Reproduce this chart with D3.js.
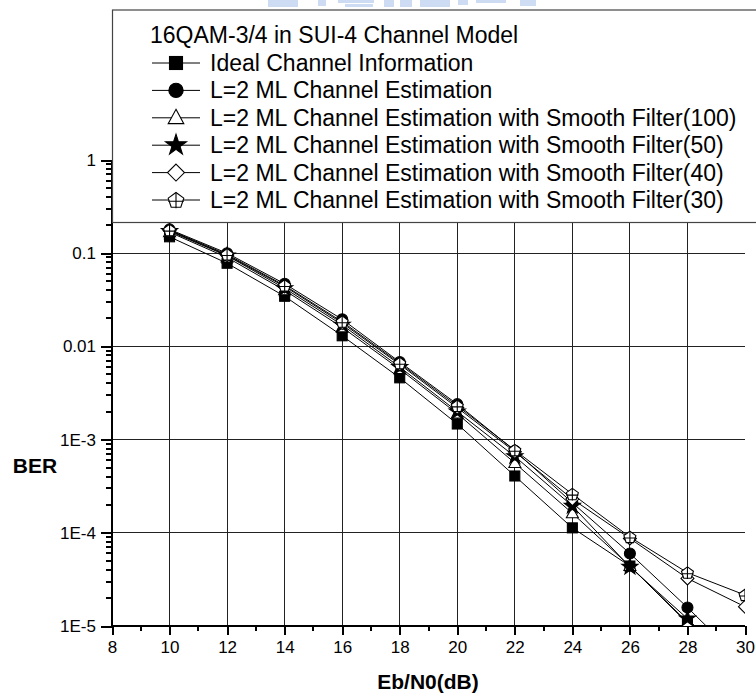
<!DOCTYPE html>
<html><head><meta charset="utf-8">
<script src="https://cdn.jsdelivr.net/npm/d3@7"></script>
<style>body{margin:0;background:#fff}svg{display:block}text{font-family:"Liberation Sans",Arial,sans-serif}</style>
</head><body>
<svg id="c" width="756" height="700"></svg>
<script>
const ebn0 = [10,12,14,16,18,20,22,24,26,28,30];
const idealCI = [0.150,0.078,0.0345,0.0130,0.0046,0.00147,4.07e-4,1.13e-4,4.4e-5,1.07e-5,2.5e-6];
const mlCE    = [0.180,0.100,0.047,0.0195,0.0068,0.0024,7.6e-4,2.1e-4,6.0e-5,1.58e-5,3.9e-6];
const sf100   = [0.168,0.090,0.040,0.0160,0.0057,0.0019,5.6e-4,1.62e-4,4.4e-5,1.1e-5,3.0e-6];
const sf50    = [0.172,0.094,0.042,0.0170,0.0060,0.0020,6.6e-4,1.94e-4,4.3e-5,1.2e-5,2.9e-6];
const sf40    = [0.175,0.095,0.044,0.0178,0.0064,0.0022,7.4e-4,2.3e-4,8.7e-5,3.24e-5,1.61e-5];
const sf30    = [0.177,0.097,0.045,0.0184,0.0066,0.0023,7.7e-4,2.6e-4,9.0e-5,3.73e-5,2.15e-5];
const seriesNames = ["Ideal Channel Information","L=2 ML Channel Estimation",
  "L=2 ML Channel Estimation with Smooth Filter(100)","L=2 ML Channel Estimation with Smooth Filter(50)",
  "L=2 ML Channel Estimation with Smooth Filter(40)","L=2 ML Channel Estimation with Smooth Filter(30)"];
const seriesValues = [idealCI, mlCE, sf100, sf50, sf40, sf30];
const seriesMarkers = ["square","circle","triangle","star","diamond","pentagon"];
const legendTitle = "16QAM-3/4 in SUI-4 Channel Model";
const xTicks = [8,10,12,14,16,18,20,22,24,26,28,30];
const yTicks = [1e-5,1e-4,1e-3,1e-2,1e-1,1];
const yTickLabels = ["1E-5","1E-4","1E-3","0.01","0.1","1"];

const svg = d3.select("#c");
const L=112, R=745, T=160, B=626;
const x = d3.scaleLinear().domain([8,30]).range([L,R]);
const y = d3.scaleLog().domain([1e-5,1]).range([B,T]);

// watermark remnant at top
const wm = svg.append("g").attr("fill","#c9d9f2").attr("opacity",0.9);
[[268,0,30,7],[318,0,8,6],[338,0,36,3],[345,4,28,3],[384,0,10,7],[400,0,12,7],[420,0,30,7],[458,0,10,5],[476,0,30,3],[520,0,16,6]].forEach(r=>wm.append("rect").attr("x",r[0]).attr("y",r[1]).attr("width",r[2]).attr("height",r[3]));

// grid
const g = svg.append("g");
g.selectAll("line.vg").data(xTicks.filter(d=>d>8&&d<30)).join("line")
  .attr("x1",d=>x(d)).attr("x2",d=>x(d)).attr("y1",T).attr("y2",B)
  .attr("stroke","#222").attr("stroke-width",1).attr("shape-rendering","crispEdges");
g.selectAll("line.hg").data(yTicks.filter(d=>d>1e-5&&d<1)).join("line")
  .attr("x1",L).attr("x2",R).attr("y1",d=>y(d)).attr("y2",d=>y(d))
  .attr("stroke","#222").attr("stroke-width",1).attr("shape-rendering","crispEdges");

// axes
const xAxis = d3.axisBottom(x).tickValues(xTicks).tickSize(9).tickPadding(6).tickFormat(d3.format("d"));
const gx = svg.append("g").attr("transform",`translate(0,${B})`).call(xAxis);
const xMinor = d3.range(9,30,2);
gx.selectAll("line.minor").data(xMinor).join("line").attr("class","minor")
  .attr("x1",d=>x(d)).attr("x2",d=>x(d)).attr("y1",0).attr("y2",5);
const yAxis = d3.axisLeft(y).tickValues(yTicks).tickSize(11).tickPadding(5).tickFormat((d,i)=>yTickLabels[i]);
const gy = svg.append("g").attr("transform",`translate(${L},0)`).call(yAxis);
const yMinor = [];
for (let e=-5;e<0;e++) for (let m=2;m<10;m++) yMinor.push(m*Math.pow(10,e));
gy.selectAll("line.minor").data(yMinor).join("line").attr("class","minor")
  .attr("x1",-6).attr("x2",0).attr("y1",d=>y(d)).attr("y2",d=>y(d));
[gx,gy].forEach(a=>{a.select(".domain").attr("stroke","#000").attr("stroke-width",2);
  a.selectAll(".tick line, line.minor").attr("stroke","#000").attr("stroke-width",2).attr("shape-rendering","crispEdges");
  a.selectAll(".tick text").attr("fill","#000").style("font-size","17px").style("font-family","'Liberation Sans',Arial,sans-serif");});
gy.select(".domain").attr("d",`M0,${B}V${T}`);
gx.select(".domain").attr("d",`M${L},0H${R}`);

svg.append("text").attr("x",35).attr("y",473).attr("text-anchor","middle").attr("font-weight","bold").attr("font-size","21px").text("BER");
svg.append("text").attr("x",428).attr("y",689).attr("text-anchor","middle").attr("font-weight","bold").attr("font-size","21px").text("Eb/N0(dB)");

// markers
function drawMarker(sel, type, cx, cy, k){
  k = k||1;
  const s = sel.append("g").attr("transform",`translate(${cx},${cy}) scale(${k})`).attr("stroke","#000").attr("stroke-width",1/k*1.1);
  if(type==="square") s.append("rect").attr("x",-5).attr("y",-5).attr("width",10).attr("height",10).attr("fill","#000");
  else if(type==="circle") s.append("circle").attr("r",5.5).attr("fill","#000");
  else if(type==="triangle") s.append("path").attr("d","M0,-6.5L6,4.5L-6,4.5Z").attr("fill","#fff");
  else if(type==="star") s.append("path").attr("d",d3.symbol(d3.symbolStar,80)()).attr("fill","#000");
  else if(type==="diamond") s.append("path").attr("d","M0,-6.5L6.5,0L0,6.5L-6.5,0Z").attr("fill","#fff");
  else if(type==="pentagon"){
    const pts=d3.range(5).map(i=>{const a=-Math.PI/2+i*2*Math.PI/5;return [6.3*Math.cos(a),6.3*Math.sin(a)+0.5];});
    s.append("path").attr("d","M"+pts.join("L")+"Z").attr("fill","#fff");
    s.append("path").attr("d","M0,-5.8V6.3M-6,1H6").attr("fill","none");
  }
}

svg.append("clipPath").attr("id","clip").append("rect").attr("x",L).attr("y",0).attr("width",R-L).attr("height",B);
const plot = svg.append("g").attr("clip-path","url(#clip)");
const line = d3.line().x((d,i)=>x(ebn0[i])).y(d=>y(d));
seriesValues.forEach(vals=>{
  plot.append("path").attr("d",line(vals)).attr("fill","none").attr("stroke","#000").attr("stroke-width",1);
});
seriesValues.forEach((vals,k)=>{
  vals.forEach((v,i)=>{ if(v>=1e-5) drawMarker(plot, seriesMarkers[k], x(ebn0[i]), y(v)); });
});

// legend
const lg = svg.append("g");
lg.append("rect").attr("x",112.5).attr("y",10).attr("width",700).attr("height",212.5)
  .attr("fill","#fff").attr("stroke","#444").attr("stroke-width",1.2);
lg.append("text").attr("x",150).attr("y",43).attr("font-size","23px").text(legendTitle);
seriesNames.forEach((n,i)=>{
  const yy = 63 + i*27.4;
  lg.append("line").attr("x1",152).attr("x2",200).attr("y1",yy).attr("y2",yy).attr("stroke","#000");
  drawMarker(lg, seriesMarkers[i], 176, yy, 1.3);
  lg.append("text").attr("x",210).attr("y",yy+8).attr("font-size","23px").text(n);
});
</script>
</body></html>
